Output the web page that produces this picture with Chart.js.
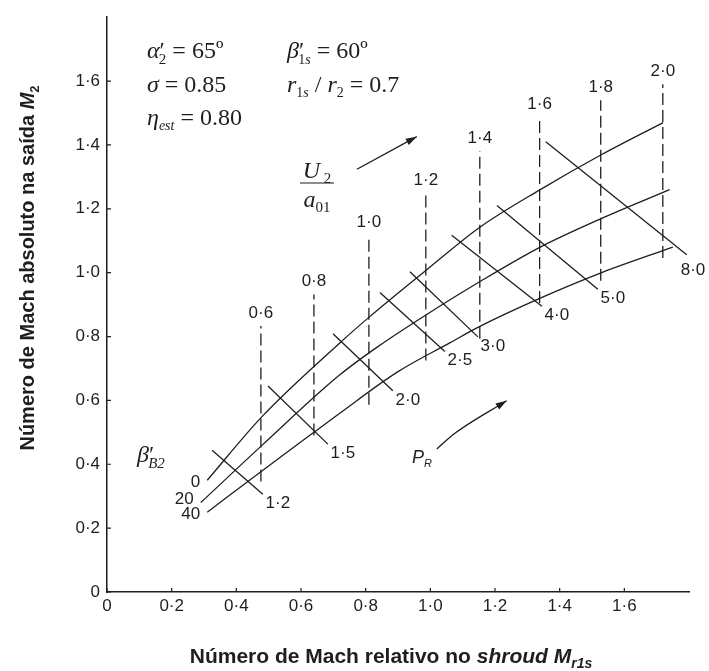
<!DOCTYPE html>
<html>
<head>
<meta charset="utf-8">
<script src="https://cdn.jsdelivr.net/npm/chart.js@4.4.1/dist/chart.umd.min.js"></script>
<style>
  body { margin: 0; background: #fff; }
</style>
</head>
<body>
<canvas id="mach-chart" width="709" height="671"></canvas>
<script>
//
// Data
//
const xTicks = [0, 0.2, 0.4, 0.6, 0.8, 1.0, 1.2, 1.4, 1.6];
const yTicks = [0, 0.2, 0.4, 0.6, 0.8, 1.0, 1.2, 1.4, 1.6];

// beta'_B2 curves (0, 20, 40)
const betaLabels = ['0', '20', '40'];
const beta0X = [0.31, 0.48, 0.72, 0.81, 0.99, 1.15, 1.34, 1.53, 1.72];
const beta0Y = [0.35, 0.55, 0.78, 0.86, 1.01, 1.14, 1.26, 1.37, 1.47];
const beta20X = [0.29, 0.48, 0.72, 0.84, 0.99, 1.15, 1.34, 1.53, 1.74];
const beta20Y = [0.28, 0.46, 0.68, 0.77, 0.87, 0.97, 1.08, 1.17, 1.26];
const beta40X = [0.31, 0.48, 0.64, 0.72, 0.90, 1.06, 1.15, 1.34, 1.53, 1.75];
const beta40Y = [0.25, 0.38, 0.50, 0.56, 0.69, 0.78, 0.83, 0.92, 1.00, 1.08];

// U2/a01 dashed lines
const speedLabels = ['0·6', '0·8', '1·0', '1·2', '1·4', '1·6', '1·8', '2·0'];
const speedX = [0.476, 0.640, 0.810, 0.986, 1.153, 1.338, 1.527, 1.719];
const speedTop = [0.833, 0.932, 1.117, 1.247, 1.380, 1.488, 1.540, 1.590];
const speedBottom = [0.346, 0.490, 0.586, 0.725, 0.793, 0.905, 0.975, 1.046];

// P_R cross lines
const prLabels = ['1·2', '1·5', '2·0', '2·5', '3·0', '4·0', '5·0', '8·0'];
const prStartX = [0.325, 0.498, 0.699, 0.844, 0.937, 1.066, 1.206, 1.357];
const prStartY = [0.444, 0.645, 0.809, 0.938, 1.003, 1.117, 1.210, 1.410];
const prEndX = [0.482, 0.683, 0.884, 1.045, 1.147, 1.345, 1.518, 1.793];
const prEndY = [0.306, 0.463, 0.630, 0.753, 0.799, 0.895, 0.948, 1.056];

// direction arrows
const speedArrowX = [0.773, 0.958];
const speedArrowY = [1.324, 1.426];
const prArrowX = [1.020, 1.076, 1.236];
const prArrowY = [0.448, 0.497, 0.599];

//
// Styles
//
const ink = '#1e1e1e';
const serif = '"Liberation Serif", "Times New Roman", serif';
const sans = '"Liberation Sans", Arial, sans-serif';

function pts(xs, ys) {
    return xs.map((x, i) => ({ x: x, y: ys[i] }));
}

function fmt(v) {
    return v === 0 ? '0' : v.toFixed(1).replace('.', '·');
}

const curveSets = [[beta0X, beta0Y], [beta20X, beta20Y], [beta40X, beta40Y]].map(c => ({
    data: pts(c[0], c[1]),
    borderColor: ink,
    borderWidth: 1.3,
    cubicInterpolationMode: 'monotone'
}));

const speedSets = speedX.map((x, i) => ({
    data: [{ x: x, y: speedBottom[i] }, { x: x, y: speedTop[i] }],
    borderColor: ink,
    borderWidth: 1.3,
    borderDash: [12, 5]
}));

const prSets = prStartX.map((x, i) => ({
    data: [{ x: x, y: prStartY[i] }, { x: prEndX[i], y: prEndY[i] }],
    borderColor: ink,
    borderWidth: 1.3
}));

const arrowSets = [
    { data: pts(speedArrowX, speedArrowY), borderColor: ink, borderWidth: 1.3 },
    { data: pts(prArrowX, prArrowY), borderColor: ink, borderWidth: 1.3, cubicInterpolationMode: 'monotone' }
];

const allSets = curveSets.concat(speedSets, prSets, arrowSets);
const arrowStart = allSets.length - 2;

// draws a row of text pieces: [text, font, dy, dx]
function richText(ctx, x, y, runs, align) {
    let w = 0;
    runs.forEach(r => { ctx.font = r[1]; w += ctx.measureText(r[0]).width + (r[3] || 0); });
    let cx = align === 'center' ? x - w / 2 : (align === 'right' ? x - w : x);
    ctx.textAlign = 'left';
    ctx.textBaseline = 'alphabetic';
    runs.forEach(r => {
        ctx.font = r[1];
        cx += r[3] || 0;
        ctx.fillText(r[0], cx, y + (r[2] || 0));
        cx += ctx.measureText(r[0]).width;
    });
}

const it = s => `italic ${s}px ${serif}`;
const rm = s => `${s}px ${serif}`;
const eq = ' = ';

const labelPlugin = {
    id: 'labels',
    afterDraw(chart) {
        const ctx = chart.ctx;
        const xs = chart.scales.x;
        const ys = chart.scales.y;
        const area = chart.chartArea;
        ctx.save();
        ctx.fillStyle = ink;
        ctx.strokeStyle = ink;

        // inward tick marks
        ctx.lineWidth = 1.2;
        ctx.beginPath();
        xTicks.forEach(v => { const p = xs.getPixelForValue(v); ctx.moveTo(p, area.bottom); ctx.lineTo(p, area.bottom - 4); });
        yTicks.forEach(v => { const p = ys.getPixelForValue(v); ctx.moveTo(area.left, p); ctx.lineTo(area.left + 4, p); });
        ctx.stroke();

        // arrow heads
        for (let i = arrowStart; i < allSets.length; i++) {
            const el = chart.getDatasetMeta(i).data;
            const a = el[el.length - 2], b = el[el.length - 1];
            const ang = Math.atan2(b.y - a.y, b.x - a.x);
            ctx.save();
            ctx.translate(b.x, b.y);
            ctx.rotate(ang);
            ctx.beginPath();
            ctx.moveTo(0, 0);
            ctx.lineTo(-11, -3.5);
            ctx.lineTo(-11, 3.5);
            ctx.closePath();
            ctx.fill();
            ctx.restore();
        }

        // curve labels
        ctx.font = `17px ${sans}`;
        ctx.textBaseline = 'middle';
        ctx.textAlign = 'right';
        const startY = [beta0Y, beta20Y, beta40Y];
        const shiftY = [2, -3, 2];
        [beta0X, beta20X, beta40X].forEach((cx, i) => {
            ctx.fillText(betaLabels[i], xs.getPixelForValue(cx[0]) - 7, ys.getPixelForValue(startY[i][0]) + shiftY[i]);
        });

        // U2/a01 labels on top of the dashed lines
        ctx.textAlign = 'center';
        speedLabels.forEach((t, i) => {
            ctx.fillText(t, xs.getPixelForValue(speedX[i]), ys.getPixelForValue(speedTop[i]) - 13);
        });

        // P_R labels at the lower end of each cross line
        prLabels.forEach((t, i) => {
            let px = xs.getPixelForValue(prEndX[i]) + 15;
            let py = ys.getPixelForValue(prEndY[i]) + 9;
            if (px > chart.width - 16) { px = chart.width - 16; py += 7; }
            ctx.fillText(t, px, py);
        });

        // parameters
        richText(ctx, 147, 58, [['α', it(24)], ['′', rm(24)], ['2', rm(15), 6, -6], [eq + '65º', rm(24)]]);
        richText(ctx, 147, 92, [['σ', it(24)], [eq + '0.85', rm(24)]]);
        richText(ctx, 147, 125, [['η', it(24)], ['est', it(14), 5], [eq + '0.80', rm(24)]]);
        richText(ctx, 287, 58, [['β', it(24)], ['′', rm(24)], ['1', rm(14), 6, -6], ['s', it(14), 6], [eq + '60º', rm(24)]]);
        richText(ctx, 287, 92, [['r', it(24)], ['1', rm(14), 5], ['s', it(14), 5], [' / ', rm(24)], ['r', it(24)], ['2', rm(14), 5], [eq + '0.7', rm(24)]]);

        // U2 / a01 fraction
        richText(ctx, 317, 178, [['U', it(24)], [' 2', rm(15), 5]], 'center');
        ctx.lineWidth = 1.2;
        ctx.beginPath();
        ctx.moveTo(300, 183);
        ctx.lineTo(334, 183);
        ctx.stroke();
        richText(ctx, 317, 207, [['a', it(24)], ['01', rm(15), 5]], 'center');

        richText(ctx, 137, 462, [['β', it(24)], ['′', rm(24)], ['B2', it(15), 6, -6]]);
        richText(ctx, 412, 463, [['P', `italic 18px ${sans}`], ['R', `italic 11px ${sans}`, 4]]);

        // axis titles
        const b = `bold 21px ${sans}`;
        const bi = `italic bold 21px ${sans}`;
        richText(ctx, 391, 663, [['Número de Mach relativo no ', b], ['shroud', bi], [' ', b], ['M', bi], ['r1s', `italic bold 14px ${sans}`, 5]], 'center');
        const b2 = `bold 20px ${sans}`;
        ctx.translate(27, 268);
        ctx.rotate(-Math.PI / 2);
        richText(ctx, 0, 7, [['Número de Mach absoluto na saída ', b2], ['M', `italic bold 20px ${sans}`], ['2', `bold 13px ${sans}`, 5]], 'center');
        ctx.restore();
    }
};

//
// Chart
//
const machCanvas = document.getElementById('mach-chart');

let machChart = new Chart(machCanvas, {
    type: 'scatter',
    data: { datasets: allSets },
    options: {
        responsive: false,
        animation: false,
        showLine: true,
        elements: { point: { radius: 0 } },
        layout: { padding: { top: 9, right: 20, left: 0, bottom: 0 } },
        plugins: { legend: { display: false }, tooltip: { enabled: false } },
        scales: {
            x: {
                min: 0,
                max: 1.8,
                afterBuildTicks: s => { s.ticks = xTicks.map(v => ({ value: v })); },
                afterFit: s => { s.height = 79; },
                grid: { display: false, drawTicks: false },
                border: { color: ink, width: 1.5 },
                ticks: { color: ink, padding: 4, font: { family: sans, size: 17 }, callback: fmt, autoSkip: false, maxRotation: 0 }
            },
            y: {
                min: 0,
                max: 1.8,
                afterBuildTicks: s => { s.ticks = yTicks.map(v => ({ value: v })); },
                afterFit: s => { s.width = 107; },
                grid: { display: false, drawTicks: false },
                border: { color: ink, width: 1.5 },
                ticks: { color: ink, padding: 7, font: { family: sans, size: 17 }, callback: fmt }
            }
        }
    },
    plugins: [labelPlugin]
});
</script>
</body>
</html>
